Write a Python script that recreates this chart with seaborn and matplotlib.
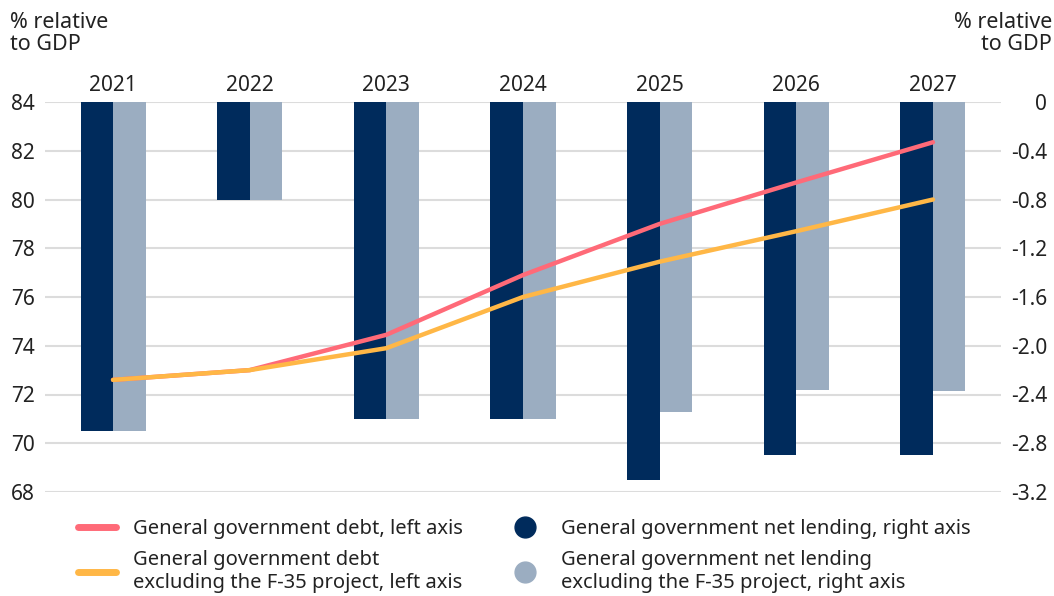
import matplotlib
matplotlib.use("Agg")
import matplotlib.pyplot as plt
from matplotlib.lines import Line2D
import numpy as np
import pandas as pd
import seaborn as sns

years = ["2021", "2022", "2023", "2024", "2025", "2026", "2027"]
debt = [72.6, 73.0, 74.45, 76.9, 79.0, 80.7, 82.35]
debt_ex_f35 = [72.6, 73.0, 73.9, 76.0, 77.45, 78.7, 80.0]
net_lending = [-2.7, -0.8, -2.6, -2.6, -3.1, -2.9, -2.9]
net_lending_ex_f35 = [-2.7, -0.8, -2.6, -2.6, -2.54, -2.36, -2.37]

left_ticks = [68, 70, 72, 74, 76, 78, 80, 82, 84]
right_ticks = [0, -0.4, -0.8, -1.2, -1.6, -2.0, -2.4, -2.8, -3.2]
right_labels = ["0", "-0.4", "-0.8", "-1.2", "-1.6", "-2.0", "-2.4", "-2.8", "-3.2"]

lab_debt = "General government debt, left axis"
lab_debt_ex = "General government debt\nexcluding the F-35 project, left axis"
lab_nl = "General government net lending, right axis"
lab_nl_ex = "General government net lending\nexcluding the F-35 project, right axis"

c_dark = "#002B5C"
c_light = "#9BADC1"
c_pink = "#FF6A78"
c_orange = "#FFB746"
c_grid = "#DCDCDC"
c_text = "#222222"

sns.set_theme(style="white")
plt.rcParams["font.family"] = ["Noto Sans", "DejaVu Sans"]
plt.rcParams["text.color"] = c_text

W, H = 1054, 596
fig = plt.figure(figsize=(W / 100, H / 100), dpi=100)
ax_bar = fig.add_axes([44.7 / W, 1 - 492 / H, (1001.3 - 44.7) / W, 390 / H])
ax_line = ax_bar.twinx()

df = pd.DataFrame({
    "year": years * 2,
    "series": [lab_nl] * len(years) + [lab_nl_ex] * len(years),
    "value": net_lending + net_lending_ex_f35,
})
sns.barplot(data=df, x="year", y="value", hue="series", order=years,
            palette={lab_nl: c_dark, lab_nl_ex: c_light}, width=0.476, gap=0,
            ax=ax_bar, legend=False, saturation=1, linewidth=0)

xpos = np.arange(len(years))
sns.lineplot(x=xpos, y=debt, color=c_pink, lw=3.2, ax=ax_line,
             solid_capstyle="round", solid_joinstyle="round")
sns.lineplot(x=xpos, y=debt_ex_f35, color=c_orange, lw=3.2, ax=ax_line,
             solid_capstyle="round", solid_joinstyle="round")

ax_bar.set_xlim(-0.5, 6.5)
ax_bar.set_ylim(-3.2, 0)
ax_line.set_ylim(68, 84)

fs = 15
ax_bar.yaxis.set_ticks_position("right")
ax_bar.set_yticks(right_ticks)
ax_bar.set_yticklabels(right_labels)
ax_bar.tick_params(axis="y", length=0, pad=33, labelsize=fs, colors=c_text)
for t in ax_bar.get_yticklabels():
    t.set_horizontalalignment("right")
ax_bar.set_ylabel("")
ax_bar.set_xlabel("")
ax_bar.xaxis.set_ticks_position("top")
ax_bar.tick_params(axis="x", length=0, pad=4, labelsize=fs, colors=c_text)
ax_bar.grid(axis="y", color=c_grid, lw=1.5)
ax_bar.set_axisbelow(True)

ax_line.yaxis.set_ticks_position("left")
ax_line.set_yticks(left_ticks)
ax_line.tick_params(axis="y", length=0, pad=7, labelsize=fs, colors=c_text)
ax_line.set_ylabel("")
ax_line.grid(False)

for a in (ax_bar, ax_line):
    for s in a.spines.values():
        s.set_visible(False)

fig.text(10 / W, 1 - 12 / H, "% relative\nto GDP", ha="left", va="top",
         fontsize=15.5, linespacing=1.05)
fig.text(1052 / W, 1 - 12 / H, "% relative\nto GDP", ha="right", va="top",
         fontsize=15.5, linespacing=1.05, multialignment="right")

handles = [
    Line2D([], [], color=c_pink, lw=5, solid_capstyle="round"),
    Line2D([], [], color=c_orange, lw=5, solid_capstyle="round"),
    Line2D([], [], color=c_dark, lw=0, marker="o", markersize=15),
    Line2D([], [], color=c_light, lw=0, marker="o", markersize=15),
]
labels = [lab_debt, lab_debt_ex, lab_nl, lab_nl_ex]
fig.legend(handles, labels, ncol=2, loc="upper left",
           bbox_to_anchor=(78 / W, 1 - 519 / H), frameon=False,
           fontsize=14.5, handlelength=1.9, handletextpad=0.85,
           columnspacing=2.1, labelspacing=0.55, borderpad=0, borderaxespad=0)

fig.savefig("out.png", dpi=100)
